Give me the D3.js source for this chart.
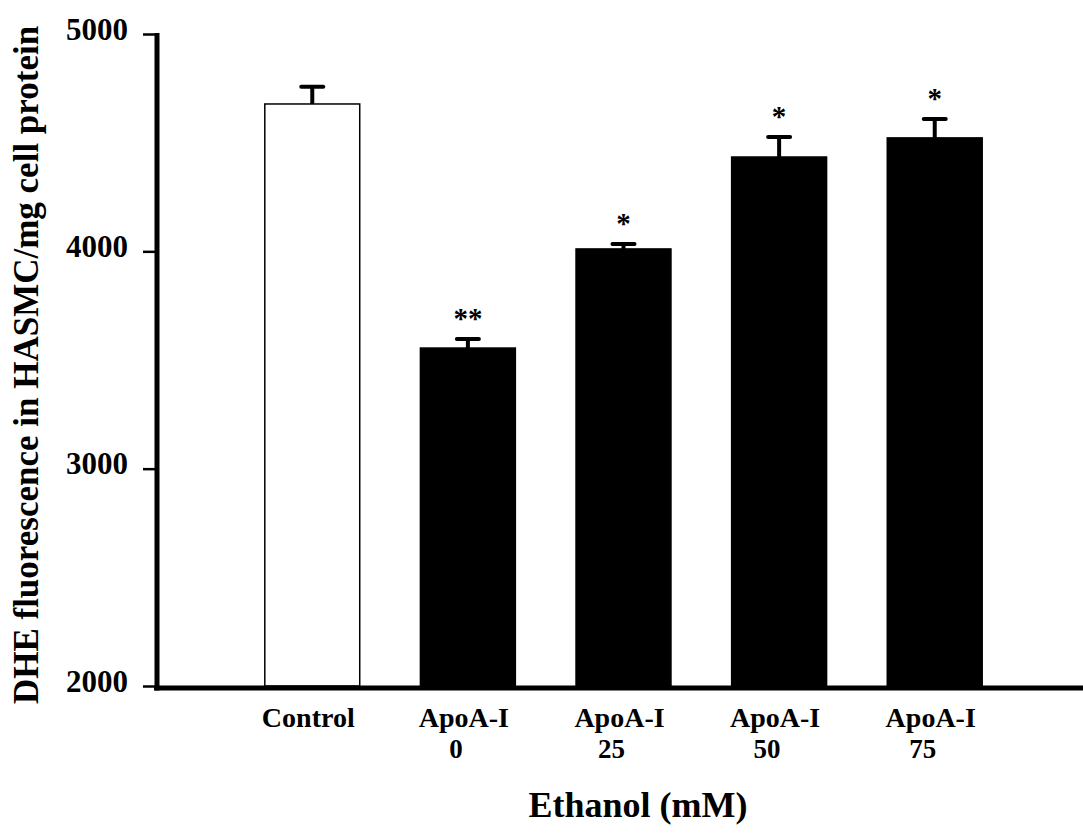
<!DOCTYPE html>
<html>
<head>
<meta charset="utf-8">
<script src="https://cdn.jsdelivr.net/npm/d3@7"></script>
<style>
  body { margin: 0; background: #fff; }
  text { font-family: "Liberation Serif", "Times New Roman", serif; font-weight: bold; fill: #000; }
</style>
</head>
<body>
<div id="chart"></div>
<script>
// data
const groups = ["Control", "ApoA-I 0", "ApoA-I 25", "ApoA-I 50", "ApoA-I 75"];
const labelLines = [["Control"], ["ApoA-I", "0"], ["ApoA-I", "25"], ["ApoA-I", "50"], ["ApoA-I", "75"]];
const means = [4678, 3555, 4011, 4434, 4522];
const errors = [79, 42, 23, 92, 87];
const marks = ["", "**", "*", "*", "*"];
const yTicks = [2000, 3000, 4000, 5000];

const width = 1083;
const height = 838;

const svg = d3.select('#chart')
  .append('svg')
  .attr('width', width)
  .attr('height', height);

const y = d3.scaleLinear().domain([2000, 5000]).range([686, 34]);
const x = d3.scaleBand()
  .domain(groups)
  .range([187, 1060])
  .paddingInner(0.39)
  .paddingOuter(0.5);

// bars
svg.selectAll('rect.bar')
  .data(groups)
  .enter()
  .append('rect')
  .attr('class', 'bar')
  .attr('x', d => x(d))
  .attr('y', (d, i) => y(means[i]))
  .attr('width', x.bandwidth())
  .attr('height', (d, i) => y(2000) - y(means[i]))
  .attr('fill', (d, i) => i === 0 ? '#fff' : '#000')
  .attr('stroke', '#000')
  .attr('stroke-width', 1.5);

// error bars (upper only)
const eb = svg.selectAll('g.err')
  .data(groups)
  .enter()
  .append('g')
  .attr('class', 'err');

eb.append('line')
  .attr('x1', d => x(d) + x.bandwidth() / 2)
  .attr('x2', d => x(d) + x.bandwidth() / 2)
  .attr('y1', (d, i) => y(means[i]))
  .attr('y2', (d, i) => y(means[i] + errors[i]))
  .attr('stroke', '#000')
  .attr('stroke-width', 4);

eb.append('line')
  .attr('x1', d => x(d) + x.bandwidth() / 2 - 11)
  .attr('x2', d => x(d) + x.bandwidth() / 2 + 11)
  .attr('y1', (d, i) => y(means[i] + errors[i]))
  .attr('y2', (d, i) => y(means[i] + errors[i]))
  .attr('stroke', '#000')
  .attr('stroke-width', 4)
  .attr('stroke-linecap', 'round');

// significance marks
svg.selectAll('text.mark')
  .data(groups)
  .enter()
  .append('text')
  .attr('class', 'mark')
  .attr('x', d => x(d) + x.bandwidth() / 2)
  .attr('y', (d, i) => y(means[i] + errors[i]) - 11)
  .attr('text-anchor', 'middle')
  .style('font-size', '29px')
  .text((d, i) => marks[i]);

// y axis
const yAxis = d3.axisLeft(y)
  .tickValues(yTicks)
  .tickSize(14)
  .tickPadding(15)
  .tickFormat(d3.format('d'));

const gy = svg.append('g')
  .attr('transform', 'translate(157,0)')
  .call(yAxis);
gy.select('.domain').remove();
gy.selectAll('.tick line').attr('stroke', '#000').attr('stroke-width', 2.5);
gy.selectAll('.tick text')
  .attr('dy', '0.17em')
  .style('font-size', '31px')
  .attr('fill', '#000');

svg.append('line')
  .attr('x1', 157).attr('x2', 157)
  .attr('y1', y(5000) - 1).attr('y2', y(2000) + 4.5)
  .attr('stroke', '#000')
  .attr('stroke-width', 5);

// x axis line
svg.append('line')
  .attr('x1', 154).attr('x2', width)
  .attr('y1', y(2000) + 2).attr('y2', y(2000) + 2)
  .attr('stroke', '#000')
  .attr('stroke-width', 5);

// category labels (two lines each, as separate texts)
groups.forEach((d, i) => {
  const cx = x(d) + x.bandwidth() / 2 - 4;
  labelLines[i].forEach((s, j) => {
    svg.append('text')
      .attr('class', 'cat')
      .attr('x', j === 0 ? cx : cx - 8)
      .attr('y', 727 + j * 31)
      .attr('text-anchor', 'middle')
      .style('font-size', j === 0 ? '28px' : '27px')
      .text(s);
  });
});

// axis titles
svg.append('text')
  .attr('x', 638)
  .attr('y', 817)
  .attr('text-anchor', 'middle')
  .style('font-size', '36px')
  .text('Ethanol (mM)');

svg.append('text')
  .attr('transform', 'translate(38,365) rotate(-90)')
  .attr('text-anchor', 'middle')
  .style('font-size', '35px')
  .text('DHE fluorescence in HASMC/mg cell protein');
</script>
</body>
</html>
